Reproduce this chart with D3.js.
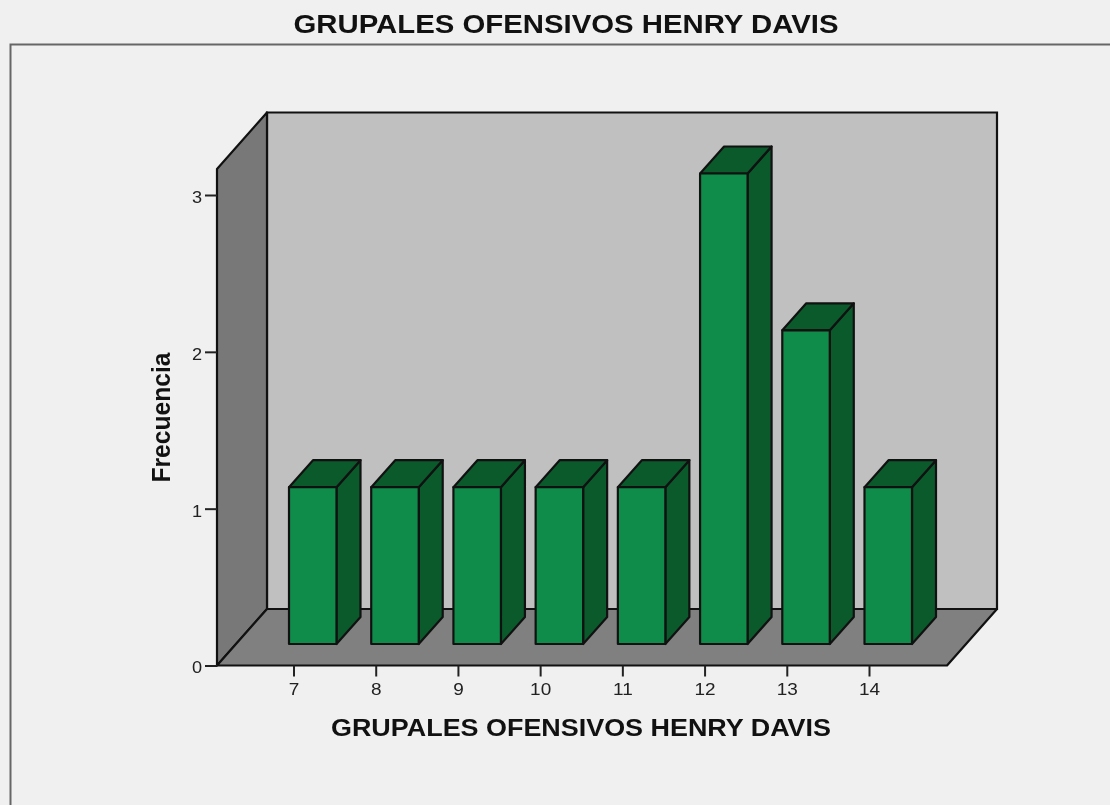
<!DOCTYPE html>
<html><head><meta charset="utf-8">
<script src="https://cdnjs.cloudflare.com/ajax/libs/d3/7.8.5/d3.min.js"></script>
<style>
html,body{margin:0;padding:0;background:#f0f0f0;overflow:hidden}
svg{display:block;filter:blur(0.5px)}
text{font-family:"Liberation Sans",Arial,sans-serif}
</style></head><body><svg id="c" width="1110" height="805"></svg>
<script>
const categories = [7, 8, 9, 10, 11, 12, 13, 14];
const frequencies = [1, 1, 1, 1, 1, 3, 2, 1];
const yTicks = [0, 1, 2, 3];
const chartTitle = "GRUPALES OFENSIVOS HENRY DAVIS";
const xTitle = "GRUPALES OFENSIVOS HENRY DAVIS";
const yTitle = "Frecuencia";

const svg = d3.select("#c");
const ink = "#111";
const x = d3.scaleLinear().domain([7, 14]).range([293.5, 869]);
const y = d3.scaleLinear().domain([0, 3]).range([665.5, 195]);
const left = 217, right = 947, top3d = 169, depthX = 50, depthY = 56.5;
const barW = 47.5, barDx = 24, barDy = 27, barOffX = -4.5, barOffY = -21.5;
const path = d3.line();

// frame
svg.append("path").attr("d", path([[10.5, 805], [10.5, 44.5], [1110, 44.5]]))
  .attr("fill", "none").attr("stroke", "#666").attr("stroke-width", 2);

// walls
const floorY = y(0);
svg.append("path").attr("d", path([[left + depthX, top3d - depthY], [right + depthX, top3d - depthY], [right + depthX, floorY - depthY], [left + depthX, floorY - depthY]]) + "Z")
  .attr("fill", "#c0c0c0").attr("stroke", ink).attr("stroke-width", 2.2);
svg.append("path").attr("d", path([[left, top3d], [left + depthX, top3d - depthY], [left + depthX, floorY - depthY], [left, floorY]]) + "Z")
  .attr("fill", "#787878").attr("stroke", ink).attr("stroke-width", 2.2).attr("stroke-linejoin", "round");
svg.append("path").attr("d", path([[left, floorY], [left + depthX, floorY - depthY], [right + depthX, floorY - depthY], [right, floorY]]) + "Z")
  .attr("fill", "#808080").attr("stroke", ink).attr("stroke-width", 2.2).attr("stroke-linejoin", "round");

// bars
const bars = svg.append("g").selectAll("g").data(categories.map((c, i) => ({c, v: frequencies[i]}))).join("g")
  .attr("stroke", ink).attr("stroke-width", 2.2).attr("stroke-linejoin", "round");
const bx = d => x(d.c) + barOffX;
const by0 = y(0) + barOffY;
const by1 = d => y(d.v) + barOffY;
bars.append("path").attr("fill", "#0a5a2b")
  .attr("d", d => path([[bx(d) + barW, by1(d)], [bx(d) + barW + barDx, by1(d) - barDy], [bx(d) + barW + barDx, by0 - barDy], [bx(d) + barW, by0]]) + "Z");
bars.append("path").attr("fill", "#0a5a2b")
  .attr("d", d => path([[bx(d), by1(d)], [bx(d) + barDx, by1(d) - barDy], [bx(d) + barW + barDx, by1(d) - barDy], [bx(d) + barW, by1(d)]]) + "Z");
bars.append("rect").attr("fill", "#0f8c49")
  .attr("x", bx).attr("y", by1).attr("width", barW).attr("height", d => by0 - by1(d));

// axes
const axisY = d3.axisLeft(y).tickValues(yTicks).tickFormat(d3.format("d")).tickSize(12).tickPadding(3);
const gy = svg.append("g").attr("transform", `translate(${left},0)`).call(axisY);
const axisX = d3.axisBottom(x).tickValues(categories).tickFormat(d3.format("d")).tickSize(11).tickPadding(7);
const gx = svg.append("g").attr("transform", `translate(0,${floorY})`).call(axisX);
for (const g of [gx, gy]) {
  g.select(".domain").remove();
  g.selectAll("line").attr("stroke", "#222").attr("stroke-width", 2);
  g.selectAll("text").attr("font-size", 16.5).attr("fill", "#222").attr("font-family", '"Liberation Sans",Arial,sans-serif');
}
gx.selectAll("text").attr("transform", "scale(1.15,1)").each(function(){ d3.select(this).attr("x", 0); });
gy.selectAll("text").attr("dy", "0.45em").attr("x", -13.5).attr("transform", "scale(1.1,1)");

// titles (the reference image is stretched horizontally)
svg.append("text").attr("x", 566).attr("y", 33).attr("text-anchor", "middle")
  .attr("font-size", 26).attr("font-weight", "bold").attr("fill", "#111")
  .attr("textLength", 545).attr("lengthAdjust", "spacingAndGlyphs").text(chartTitle);
svg.append("text").attr("x", 581).attr("y", 736).attr("text-anchor", "middle")
  .attr("font-size", 24.5).attr("font-weight", "bold").attr("fill", "#111")
  .attr("textLength", 500).attr("lengthAdjust", "spacingAndGlyphs").text(xTitle);
svg.append("text").attr("transform", "translate(170,417.5) scale(1.05,1) rotate(-90)").attr("text-anchor", "middle")
  .attr("font-size", 24).attr("font-weight", "bold").attr("fill", "#111")
  .attr("textLength", 130).attr("lengthAdjust", "spacingAndGlyphs").text(yTitle);
</script></body></html>
